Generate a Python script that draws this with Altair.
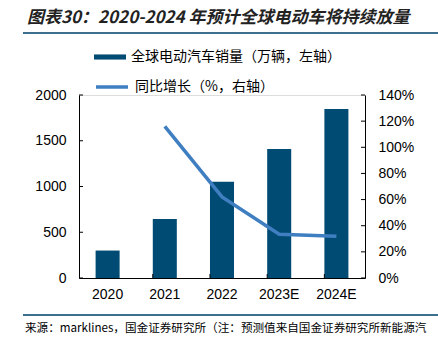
import altair as alt
import pandas as pd

years = ["2020", "2021", "2022", "2023E", "2024E"]
sales = [300, 645, 1052, 1410, 1847]           # 万辆
growth_years = ["2021", "2022", "2023E", "2024E"]
growth = [1.16, 0.62, 0.335, 0.32]              # 同比增长
left_ticks = [0, 500, 1000, 1500, 2000]
right_ticks = [0, 0.2, 0.4, 0.6, 0.8, 1.0, 1.2, 1.4]

title_text = "图表30：2020-2024 年预计全球电动车将持续放量"
bar_label = "全球电动汽车销量（万辆，左轴）"
line_label = "同比增长（%，右轴）"
source_text = "来源：marklines，国金证券研究所（注：预测值来自国金证券研究所新能源汽"

W, H = 286, 183
BAR_C = "#004b73"
LINE_C = "#3f7fc1"
LAB_FONT = "Liberation Sans"
CJK = "Noto Sans CJK SC"

bars_df = pd.DataFrame({"year": years, "sales": sales, "s": bar_label})
line_df = pd.DataFrame({"year": growth_years, "growth": growth, "s": line_label})
lt_df = pd.DataFrame({"v": left_ticks})
rt_df = pd.DataFrame({"v": right_ticks})
xt_df = pd.DataFrame({"year": years[1:]})

xscale = alt.Scale(domain=years, paddingInner=0.58, paddingOuter=0.29)
xaxis = alt.Axis(title=None, labelFont=LAB_FONT, labelFontSize=14, labelColor="#000",
                 labelPadding=9, ticks=False, domainColor="#000", labelAngle=0)

bars = alt.Chart(bars_df).mark_bar().encode(
    x=alt.X("year:N", scale=xscale, axis=xaxis, sort=years),
    y=alt.Y("sales:Q", scale=alt.Scale(domain=[0, 2000], nice=False),
            axis=alt.Axis(title=None, values=left_ticks, format="d", ticks=False, grid=False,
                          labelOverlap=False, labelFont=LAB_FONT, labelFontSize=14,
                          labelColor="#000", labelPadding=13, domainColor="#000")),
    color=alt.Color("s:N", scale=alt.Scale(domain=[bar_label], range=[BAR_C]),
                    legend=alt.Legend(title=None, orient="none", legendX=15, legendY=-54,
                                      symbolType="M-1,-0.16H1V0.16H-1Z", symbolSize=1024,
                                      symbolStrokeWidth=0, labelFont=CJK, labelFontSize=14,
                                      labelLimit=0, labelColor="#000", labelOffset=5)),
)

xtick = alt.Chart(xt_df).mark_rule(color="#000", strokeWidth=1).encode(
    x=alt.X("year:N", scale=xscale, sort=years, bandPosition=0),
    y=alt.value(H - 4), y2=alt.value(H))

ltick = alt.Chart(lt_df).mark_rule(color="#000", strokeWidth=1).encode(
    y=alt.Y("v:Q", scale=alt.Scale(domain=[0, 2000], nice=False), axis=None),
    x=alt.value(0), x2=alt.value(4))

line = alt.Chart(line_df).mark_line(strokeWidth=3.5).encode(
    x=alt.X("year:N", scale=xscale, sort=years),
    y=alt.Y("growth:Q", scale=alt.Scale(domain=[0, 1.4], nice=False),
            axis=alt.Axis(title=None, values=right_ticks, format=".0%", ticks=False, grid=False,
                          labelOverlap=False, orient="right", labelFont=LAB_FONT,
                          labelFontSize=14, labelColor="#000", labelPadding=13,
                          domainColor="#000")),
    stroke=alt.Stroke("s:N", scale=alt.Scale(domain=[line_label], range=[LINE_C]),
                      legend=alt.Legend(title=None, orient="none", legendX=15, legendY=-26,
                                        symbolType="stroke", symbolSize=1024,
                                        symbolStrokeWidth=3.5, labelFont=CJK, labelFontSize=14,
                                        labelLimit=0, labelColor="#000", labelOffset=5)),
)

rtick = alt.Chart(rt_df).mark_rule(color="#000", strokeWidth=1).encode(
    y=alt.Y("v:Q", scale=alt.Scale(domain=[0, 1.4], nice=False), axis=None),
    x=alt.value(W - 4), x2=alt.value(W))

one = pd.DataFrame({"t": [title_text]})
title = alt.Chart(one).mark_text(align="left", baseline="middle", font=CJK, fontSize=17,
                                 fontWeight="bold", fontStyle="italic", color="#222").encode(
    text="t:N", x=alt.value(-52), y=alt.value(-77))
src = alt.Chart(pd.DataFrame({"t": [source_text]})).mark_text(
    align="left", baseline="middle", font=CJK, fontSize=11.6, color="#000").encode(
    text="t:N", x=alt.value(-54), y=alt.value(234))
hline = alt.Chart(one).mark_rule(color="#3e6f8e", strokeWidth=2).encode(
    x=alt.value(-56), x2=alt.value(W + 73), y=alt.value(-62))
fline = alt.Chart(one).mark_rule(color="#3e6f8e", strokeWidth=2).encode(
    x=alt.value(-56), x2=alt.value(W + 73), y=alt.value(220))

left = alt.layer(bars, xtick)

chart = alt.layer(left, line, ltick, rtick, title, src, hline, fline).resolve_scale(
    y="independent", color="independent", stroke="independent"
).properties(
    width=W, height=H,
    autosize=alt.AutoSizeParams(type="none"),
    padding={"left": 79, "top": 95, "right": 73, "bottom": 73},
).configure_view(stroke=None).configure(background="white")

chart.save("out.html", embed_options={"renderer": "svg", "actions": False})
